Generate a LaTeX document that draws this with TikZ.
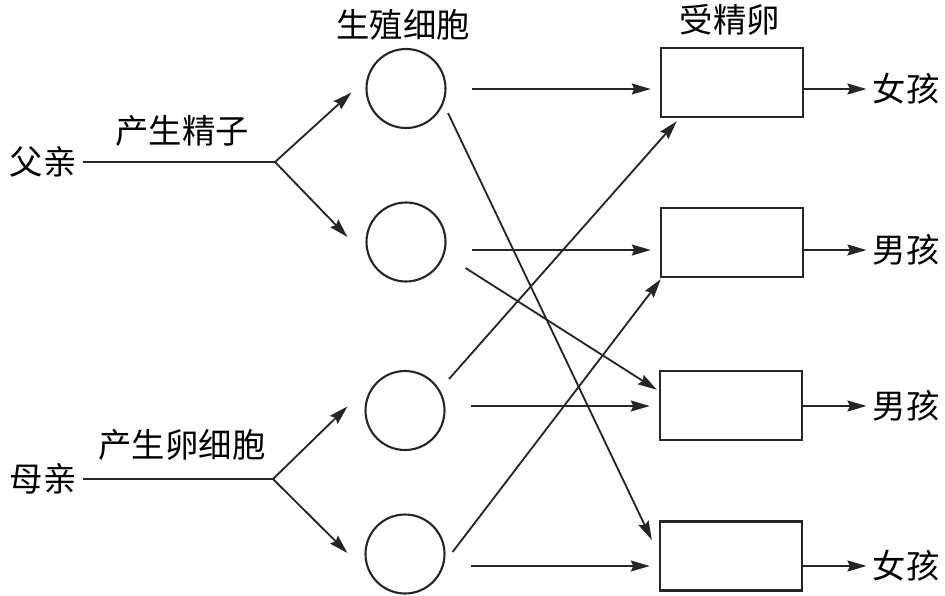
\documentclass[tikz,border=0pt]{standalone}
\usepackage{fontspec}
\usepackage{tikz}
\usetikzlibrary{arrows.meta,positioning}
\newfontfamily\cjk{Noto Sans CJK SC}

\begin{document}
\begin{tikzpicture}[
  x=0.02cm, y=-0.02cm,
  every node/.style={font=\cjk\fontsize{19pt}{22pt}\selectfont},
  cell/.style={draw=black!85, circle, line width=1.2pt, minimum size=1.58cm, inner sep=0pt},
  egg/.style={draw=black!85, rectangle, line width=1.4pt, minimum width=2.84cm, minimum height=1.38cm, inner sep=0pt},
  arrow/.style={-{Stealth[length=3.8mm,width=2.2mm,inset=0.5mm]}, line width=1.05pt, draw=black!85},
  line/.style={line width=1.05pt, draw=black!85}
]
\useasboundingbox (0,0) rectangle (945,595);
% parents
\node (fa) at (43,162) {父亲};
\node (ma) at (43,479) {母亲};
\node (l1) at (182,131) {产生精子};
\node (l2) at (182,445) {产生卵细胞};
\coordinate (fb) at (275,162);
\coordinate (mb) at (273,479);
% germ cells
\node (t1) at (403,25) {生殖细胞};
\node[cell] (c1) at (406,88.5) {};
\node[cell] (c2) at (406,242) {};
\node[cell] (c3) at (405,410.5) {};
\node[cell] (c4) at (405,554) {};
% zygotes
\node (t2) at (730,20) {受精卵};
\node[egg] (r1) at (732,82.5) {};
\node[egg] (r2) at (732,242.5) {};
\node[egg] (r3) at (731,405.5) {};
\node[egg] (r4) at (731,556) {};
% children
\node (k1) at (906,89) {女孩};
\node (k2) at (906,250) {男孩};
\node (k3) at (906,406) {男孩};
\node (k4) at (906,566) {女孩};

\draw[line] (fa) -- (fb);
\draw[line] (ma) -- (mb);
\draw[arrow] (fb) -- ([shift={(-14,4)}]c1.west);
\draw[arrow] (fb) -- ([shift={(-18,-5)}]c2.west);
\draw[arrow] (mb) -- ([shift={(-17,-4)}]c3.west);
\draw[arrow] (mb) -- ([shift={(-17,-1)}]c4.west);

\draw[arrow, shorten <=0.5cm, shorten >=0.18cm] (c1.east |- k1) -- (r1.west |- k1);
\draw[arrow, shorten <=0.5cm, shorten >=0.18cm] (c2.east |- k2) -- (r2.west |- k2);
\draw[arrow, shorten <=0.5cm, shorten >=0.18cm] (c3.east |- k3) -- (r3.west |- k3);
\draw[arrow, shorten <=0.5cm, shorten >=0.18cm] (c4.east |- k4) -- (r4.west |- k4);

\draw[arrow] ([shift={(42,24.5)}]c1.center) -- ([shift={(-7,-16)}]r4.west);
\draw[arrow] ([shift={(19,26)}]c2.east) -- ([shift={(-2,20)}]r3.north west);
\draw[arrow] ([shift={(44,-31.5)}]c3.center) -- ([shift={(17,3)}]r1.south west);
\draw[arrow] ([shift={(7,-2)}]c4.east) -- ([shift={(1,1)}]r2.south west);

\draw[arrow] (r1.east |- k1) -- (k1.west);
\draw[arrow] (r2.east |- k2) -- (k2.west);
\draw[arrow] (r3.east |- k3) -- (k3.west);
\draw[arrow] (r4.east |- k4) -- (k4.west);
\end{tikzpicture}
\end{document}
